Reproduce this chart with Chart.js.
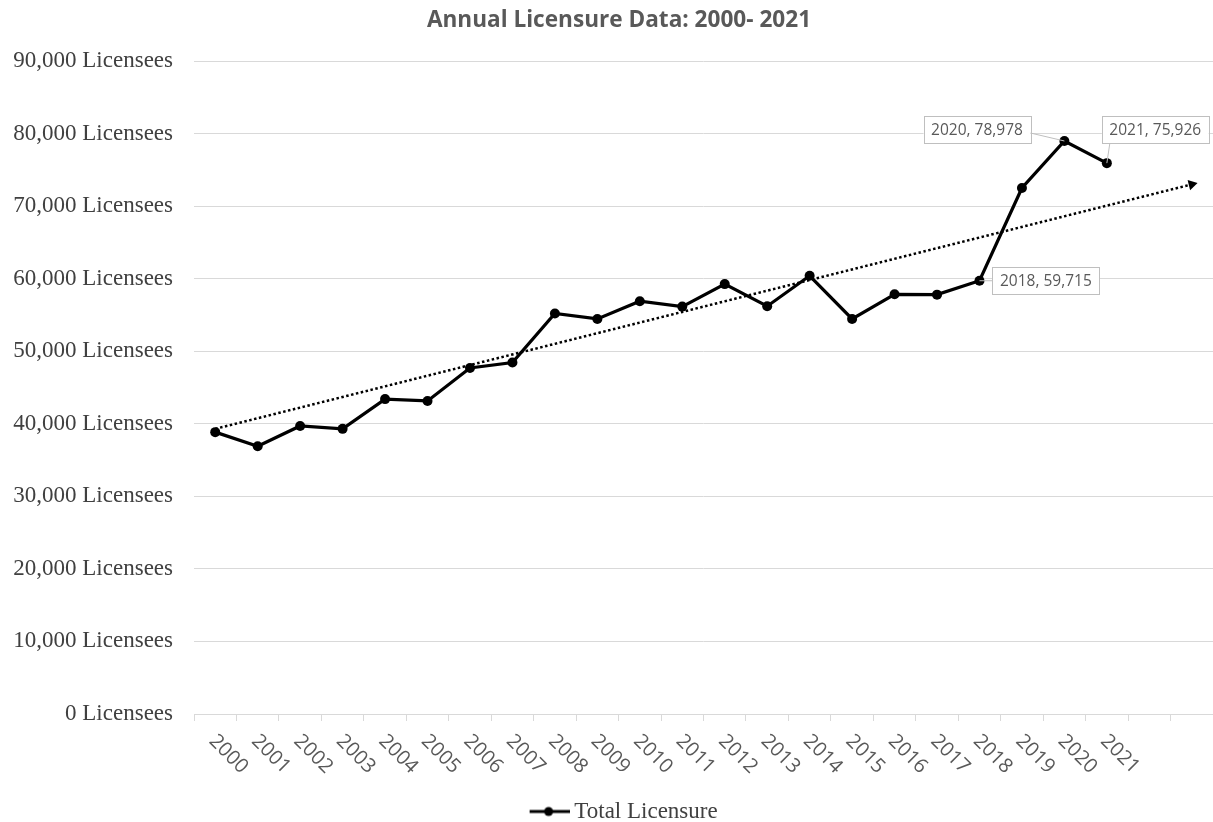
<!DOCTYPE html>
<html>
<head>
<meta charset="utf-8">
<script src="https://cdn.jsdelivr.net/npm/chart.js@4/dist/chart.umd.min.js"></script>
<style>
  html, body { margin: 0; padding: 0; background: #fff; }
  #wrap { width: 1213px; height: 822px; }
</style>
</head>
<body>
<div id="wrap"><canvas id="c" width="1213" height="822"></canvas></div>
<script>
// ---- data ----
const years = ['2000','2001','2002','2003','2004','2005','2006','2007','2008','2009','2010',
               '2011','2012','2013','2014','2015','2016','2017','2018','2019','2020','2021'];
const forecastSlots = ['', ''];
const totalLicensure = [38850, 36900, 39700, 39300, 43400, 43150, 47700, 48450, 55200, 54450, 56900,
                        56150, 59250, 56200, 60400, 54450, 57850, 57800, 59715, 72500, 78978, 75926];
const trendStartValue = 39300;   // linear trend at 2000
const trendEndValue = 73000;     // linear trend, forecast 2 periods forward
const yTicks = [0, 10000, 20000, 30000, 40000, 50000, 60000, 70000, 80000, 90000];
const yUnit = 'Licensees';
const labelledYears = ['2018', '2020', '2021'];
const titleText = 'Annual Licensure Data: 2000- 2021';
const seriesName = 'Total Licensure';

// ---- build ----
const labels = years.concat(forecastSlots);
const lineData = totalLicensure.concat(forecastSlots.map(() => null));
const trendData = labels.map((_, i) => i === 0 ? trendStartValue : (i === labels.length - 1 ? trendEndValue : null));

const legendImg = document.createElement('canvas');
legendImg.width = 56; legendImg.height = 12;
(function () {
  const g = legendImg.getContext('2d');
  g.strokeStyle = '#000'; g.lineWidth = 3;
  g.beginPath(); g.moveTo(16, 6); g.lineTo(56, 6); g.stroke();
  g.fillStyle = '#000';
  g.beginPath(); g.arc(35, 6, 4.5, 0, Math.PI * 2); g.fill();
})();

const fmt = v => v.toLocaleString('en-US');

const xLabelPlugin = {
  id: 'xLabels',
  afterDraw(chart) {
    const xs = chart.scales.x;
    const ctx = chart.ctx;
    ctx.save();
    ctx.font = '20px "Open Sans"';
    ctx.fillStyle = '#595959';
    ctx.textAlign = 'left';
    ctx.textBaseline = 'middle';
    years.forEach((y, i) => {
      const x = xs.getPixelForValue(i);
      ctx.save();
      ctx.translate(x - 3, xs.top + 24);
      ctx.rotate(Math.PI / 4);
      ctx.fillText(y, 0, 0);
      ctx.restore();
    });
    ctx.restore();
  }
};

const dataLabelPlugin = {
  id: 'dataLabels',
  afterDatasetsDraw(chart) {
    const meta = chart.getDatasetMeta(0);
    const ctx = chart.ctx;
    ctx.save();
    ctx.font = '15.5px "Open Sans"';
    const h = 27;
    labelledYears.forEach(yr => {
      const i = years.indexOf(yr);
      const el = meta.data[i];
      const px = el.x, py = el.y;
      const text = yr + ', ' + fmt(totalLicensure[i]);
      const w = ctx.measureText(text).width + 15;
      let bx, by, lx, ly;
      if (yr === '2018') { bx = px + 13; by = py - 14; lx = bx; ly = py; }
      else if (yr === '2020') { bx = px - 34 - w; by = py - 25; lx = bx + w; ly = by + 17; }
      else { bx = px - 5; by = py - 47; lx = bx + 8; ly = by + h; }
      ctx.strokeStyle = '#bfbfbf'; ctx.lineWidth = 1;
      ctx.beginPath(); ctx.moveTo(lx, ly); ctx.lineTo(px, py); ctx.stroke();
      ctx.fillStyle = '#ffffff';
      ctx.fillRect(bx, by, w, h);
      ctx.strokeStyle = '#bfbfbf';
      ctx.strokeRect(Math.round(bx) + 0.5, Math.round(by) + 0.5, Math.round(w), h);
      ctx.fillStyle = '#595959';
      ctx.textAlign = 'center'; ctx.textBaseline = 'middle';
      ctx.fillText(text, bx + w / 2, by + h / 2 + 1);
    });
    ctx.restore();
  }
};

new Chart(document.getElementById('c'), {
  type: 'line',
  data: {
    labels: labels,
    datasets: [
      {
        label: seriesName,
        data: lineData,
        borderColor: '#000',
        backgroundColor: '#000',
        borderWidth: 3.2,
        pointRadius: 5,
        pointBackgroundColor: '#000',
        pointBorderColor: '#000',
        pointBorderWidth: 0,
        tension: 0,
        clip: false,
        order: 1
      },
      {
        label: 'trend',
        data: trendData,
        spanGaps: true,
        borderColor: '#000',
        backgroundColor: '#000',
        borderWidth: 2.5,
        borderDash: [2.5, 2.5],
        pointStyle: 'triangle',
        pointRadius: ctx => ctx.dataIndex === labels.length - 1 ? 6 : 0,
        pointRotation: 76,
        pointBorderWidth: 0,
        pointBackgroundColor: '#000',
        tension: 0,
        clip: false,
        order: 2
      }
    ]
  },
  options: {
    responsive: false,
    animation: false,
    events: [],
    layout: { autoPadding: false, padding: { left: 22, right: -3, top: 0, bottom: 0 } },
    plugins: {
      title: {
        display: true,
        text: titleText,
        color: '#595959',
        font: { family: '"Open Sans"', size: 22.6, weight: 'bold' },
        padding: { top: 7, bottom: 26.9 }
      },
      legend: {
        position: 'bottom',
        maxHeight: 26,
        labels: {
          usePointStyle: true,
          pointStyle: legendImg,
          pointStyleWidth: 42.5,
          padding: 4,
          color: '#404040',
          font: { family: '"Liberation Serif"', size: 23 },
          generateLabels: chart => [{
            text: seriesName, pointStyle: legendImg, datasetIndex: 0,
            fillStyle: '#000', strokeStyle: '#000', lineWidth: 0, hidden: false, fontColor: '#404040'
          }]
        }
      },
      tooltip: { enabled: false }
    },
    scales: {
      x: {
        offset: true,
        grid: { offset: true, drawOnChartArea: false, drawTicks: true, tickLength: 7, color: '#d9d9d9', lineWidth: 1 },
        border: { display: true, color: '#d9d9d9', width: 1 },
        ticks: { display: false },
        afterFit: s => { s.height = 82; }
      },
      y: {
        min: 0,
        max: 90000,
        afterBuildTicks: s => { s.ticks = yTicks.map(v => ({ value: v })); },
        ticks: {
          padding: 21,
          color: '#404040',
          font: { family: '"Liberation Serif"', size: 23 },
          callback: v => fmt(v) + ' ' + yUnit
        },
        grid: { color: '#d9d9d9', lineWidth: 1, drawTicks: false },
        border: { display: false },
        afterFit: s => { s.width = 172; s._computeLabelArea = () => undefined; }
      }
    }
  },
  plugins: [xLabelPlugin, dataLabelPlugin]
});
</script>
</body>
</html>
